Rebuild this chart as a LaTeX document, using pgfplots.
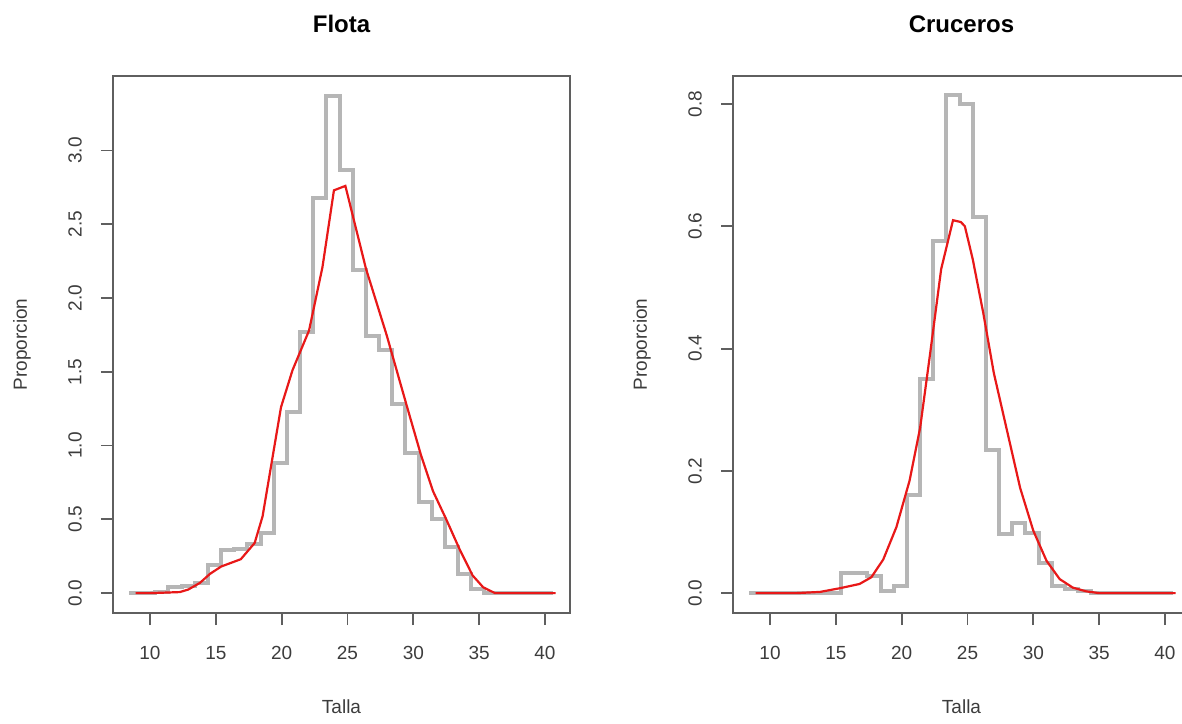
\documentclass[border=0pt]{standalone}
\usepackage{pgfplots}
\pgfplotsset{compat=1.18}
\usepackage{fontspec}
\setmainfont{Liberation Sans}
\definecolor{axgray}{RGB}{95,95,95}
\definecolor{histgray}{RGB}{182,182,182}
\definecolor{rred}{RGB}{232,24,24}
\definecolor{lblgray}{RGB}{60,60,60}
\pgfplotsset{
  rstyle/.style={
    scale only axis, width=228.5pt, height=268.5pt,
    xmin=7.19, xmax=41.9,
    axis line style={draw=axgray, line width=0.9pt},
    tick align=outside, major tick length=6pt,
    every tick/.style={draw=axgray, line width=0.9pt},
    xtick pos=bottom, ytick pos=left,
    xtick={10,15,20,25,30,35,40},
    xticklabels={10,15,20,25,30,35,40},
    ticklabel style={font=\fontsize{9.5}{11}\selectfont, text=lblgray},
    xticklabel style={anchor=center, yshift=-14pt},
    yticklabel style={xshift=-13pt, rotate=90, anchor=center},
    title style={font=\bfseries\fontsize{12}{14}\selectfont, at={(0.5,1)}, anchor=center, yshift=20pt},
    xlabel style={font=\fontsize{9.5}{11}\selectfont, text=lblgray, at={(0.5,0)}, anchor=center, yshift=-47pt},
    ylabel style={font=\fontsize{9.5}{11}\selectfont, text=lblgray, at={(axis description cs:-0.1991,0.5)}, anchor=center},
    xlabel={Talla}, ylabel={Proporcion},
  },
  hist/.style={const plot mark left, draw=histgray, line width=2pt, no marks},
  fit/.style={draw=rred, line width=1.1pt, no marks, sharp plot},
}
\begin{document}
\begin{tikzpicture}
\begin{axis}[rstyle, at={(56.5pt,55pt)}, anchor=south west,
  title={Flota},
  ymin=-0.1348, ymax=3.505,
  ytick={0,0.5,1,1.5,2,2.5,3},
  yticklabels={0.0,0.5,1.0,1.5,2.0,2.5,3.0}]
\addplot[hist] coordinates {
(8.4,0) (9.4,0) (10.4,0.01) (11.4,0.04) (12.4,0.05) (13.4,0.07) (14.4,0.19)
(15.4,0.29) (16.4,0.30) (17.4,0.33) (18.4,0.41) (19.4,0.88) (20.4,1.23)
(21.4,1.77) (22.4,2.68) (23.4,3.37) (24.4,2.87) (25.4,2.19) (26.4,1.74)
(27.4,1.65) (28.4,1.28) (29.4,0.95) (30.4,0.62) (31.4,0.50) (32.4,0.31)
(33.4,0.13) (34.4,0.03) (35.4,0) (36.4,0) (37.4,0) (38.4,0) (39.4,0) (40.6,0)};
\addplot[fit] coordinates {
(8.9,0) (10,0) (11,0.003) (12.26,0.007) (12.9,0.024) (13.8,0.07) (14.55,0.13)
(15.4,0.18) (16.9,0.23) (17.95,0.34) (18.55,0.52) (19.95,1.26) (20.82,1.51)
(22.08,1.78) (23.1,2.21) (23.97,2.73) (24.84,2.76) (26.4,2.2) (27.97,1.75)
(29.5,1.27) (30.6,0.93) (31.5,0.69) (32.5,0.50) (33.5,0.30) (34.5,0.12)
(35.3,0.04) (36.2,0) (38,0) (40.8,0)};
\end{axis}
\begin{axis}[rstyle, at={(366.5pt,55pt)}, anchor=south west,
  title={Cruceros},
  ymin=-0.0325, ymax=0.8459,
  ytick={0,0.2,0.4,0.6,0.8},
  yticklabels={0.0,0.2,0.4,0.6,0.8}]
\addplot[hist] coordinates {
(8.4,0) (9.4,0) (10.4,0) (11.4,0) (12.4,0) (13.4,0) (14.4,0)
(15.4,0.033) (16.4,0.033) (17.4,0.028) (18.4,0.004) (19.4,0.011) (20.4,0.16)
(21.4,0.35) (22.4,0.576) (23.4,0.815) (24.4,0.80) (25.4,0.616) (26.4,0.234)
(27.4,0.096) (28.4,0.114) (29.4,0.099) (30.4,0.05) (31.4,0.012) (32.4,0.006)
(33.4,0.004) (34.4,0) (35.4,0) (36.4,0) (37.4,0) (38.4,0) (39.4,0) (40.6,0)};
\addplot[fit] coordinates {
(8.9,0) (12,0) (13.8,0.002) (15.3,0.008) (16.8,0.015) (17.7,0.026) (18.6,0.055)
(19.6,0.108) (20.6,0.184) (21.4,0.27) (22.15,0.39) (23.0,0.53) (23.9,0.61)
(24.5,0.607) (24.8,0.60) (25.4,0.546) (26.2,0.458) (27.0,0.36) (28.0,0.266)
(29.0,0.172) (30.0,0.102) (31.0,0.053) (32.0,0.023) (33.0,0.009) (34.0,0.003)
(35.0,0) (38,0) (40.8,0)};
\end{axis}
\pgfresetboundingbox
\path[use as bounding box] (0,0) rectangle (591pt,361.5pt);
\end{tikzpicture}
\end{document}
